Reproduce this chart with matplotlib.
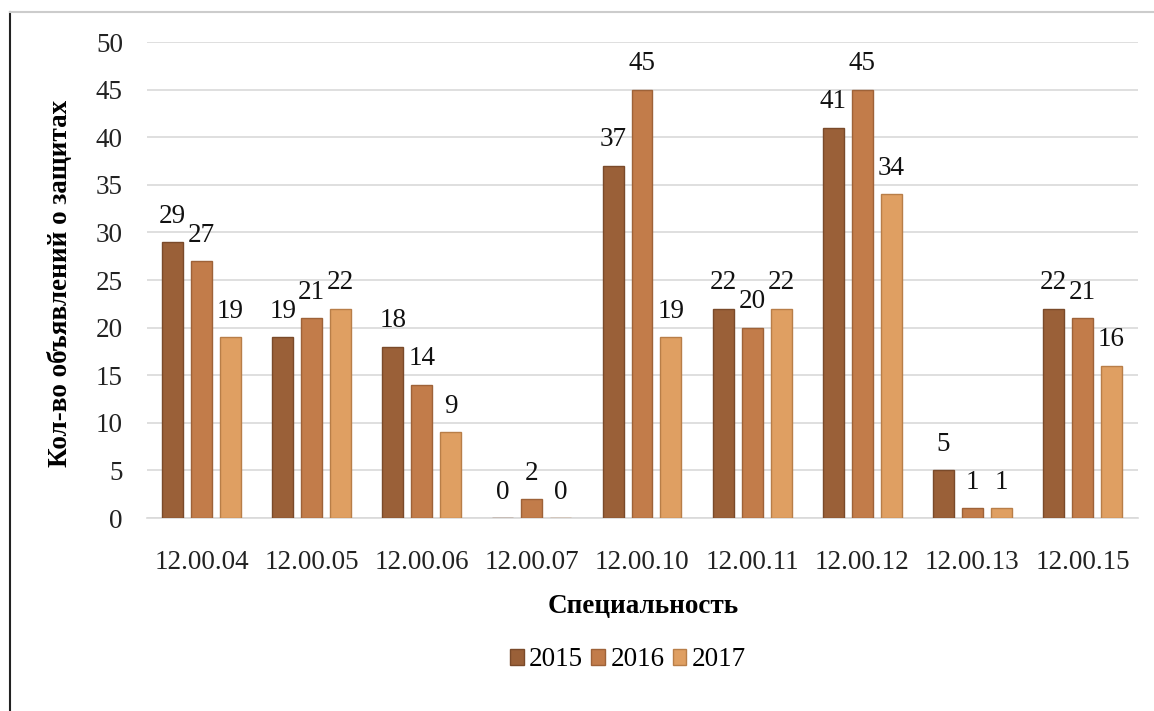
import numpy as np
import matplotlib.pyplot as plt
from matplotlib.lines import Line2D

plt.rcParams['font.family'] = ['Liberation Serif', 'DejaVu Serif']

specialties = ['12.00.04', '12.00.05', '12.00.06', '12.00.07', '12.00.10',
               '12.00.11', '12.00.12', '12.00.13', '12.00.15']
years = ['2015', '2016', '2017']
counts_2015 = [29, 19, 18, 0, 37, 22, 41, 5, 22]
counts_2016 = [27, 21, 14, 2, 45, 20, 45, 1, 21]
counts_2017 = [19, 22, 9, 0, 19, 22, 34, 1, 16]

colors = ['#9a6038', '#c27c4a', '#df9f62']
edges = ['#7a4a2a', '#9e6238', '#b87e48']

fig = plt.figure(figsize=(11.54, 7.11), dpi=100)
ax = fig.add_axes([146.5 / 1154, 1 - 518 / 711, (1137.5 - 146.5) / 1154, (518 - 42) / 711])

x = np.arange(len(specialties))
width = 0.19
step = 0.263
series = [counts_2015, counts_2016, counts_2017]
for i, vals in enumerate(series):
    pos = x + (i - 1) * step
    bars = ax.bar(pos, vals, width, color=colors[i], edgecolor=edges[i],
                  linewidth=1.0, label=years[i], zorder=3)
    for b, v in zip(bars, vals):
        ax.text(b.get_x() + b.get_width() / 2, v + 1.4, str(v),
                ha='center', va='bottom', fontsize=19.5, color='#111111')

ax.set_xlim(-0.5, len(specialties) - 0.5)
ax.set_ylim(0, 50)
ax.set_yticks(range(0, 51, 5))
ax.set_xticks(x)
ax.set_xticklabels(specialties)
ax.tick_params(axis='both', length=0, labelsize=19.5, colors='#222222')
ax.tick_params(axis='y', pad=17)
ax.tick_params(axis='x', pad=23)
ax.yaxis.grid(True, color='#d9d9d9', linewidth=1.2, zorder=0)
for s in ['top', 'right', 'left']:
    ax.spines[s].set_visible(False)
ax.spines['bottom'].set_color('#d9d9d9')
ax.spines['bottom'].set_linewidth(1.2)

fig.text(61 / 1154, 1 - 283 / 711, 'Кол-во объявлений о защитах', rotation=90,
         ha='center', va='center', fontsize=19.5, fontweight='bold')
fig.text(643 / 1154, 1 - 607 / 711, 'Специальность', ha='center', va='center',
         fontsize=19.5, fontweight='bold')

handles = [plt.Rectangle((0, 0), 1, 1, facecolor=colors[i], edgecolor=edges[i])
           for i in range(3)]
fig.legend(handles, years, loc='center', bbox_to_anchor=(628 / 1154, 1 - 660 / 711),
           ncol=3, frameon=False, fontsize=19.5, handlelength=0.5, handleheight=0.5,
           handletextpad=0.2, columnspacing=0.3)

# outer frame lines
fig.add_artist(Line2D([10 / 1154, 10 / 1154], [0, 1 - 12 / 711], color='#222222', linewidth=1.5))
fig.add_artist(Line2D([10 / 1154, 1], [1 - 12 / 711, 1 - 12 / 711], color='#cccccc', linewidth=1.5))

fig.savefig('out.png', dpi=100)
